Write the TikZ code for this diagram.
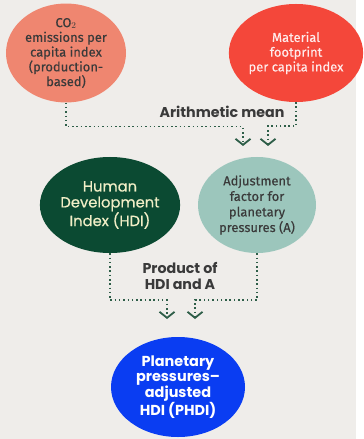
\documentclass[tikz,border=0pt]{standalone}
\usepackage{fontspec}
\setmainfont{Fira Sans}[FakeBold=0.3]
\newfontfamily\geofont{Poppins}[FakeBold=0.5]
\newfontfamily\geobold{Poppins}
\usetikzlibrary{arrows.meta,shapes.geometric}
\definecolor{bgcol}{HTML}{EFEDEA}
\definecolor{salmon}{HTML}{EF8670}
\definecolor{redfoot}{HTML}{F4473A}
\definecolor{hdigreen}{HTML}{0B4A32}
\definecolor{adjteal}{HTML}{9CC6BC}
\definecolor{phdiblue}{HTML}{0A3DF2}
\definecolor{linkgreen}{HTML}{2E5E48}
\definecolor{labelgray}{HTML}{3A3A3A}
\tikzset{
  blob/.style={ellipse,inner sep=0pt,align=center},
  narrowtxt/.style={font=\fontsize{13}{14.8}\selectfont},
  geotxt/.style={font=\geofont\fontsize{14.8}{16}\selectfont},
  link/.style={linkgreen,line width=1.5bp,dash pattern=on 1.5bp off 2.8bp,
    -{Straight Barb[length=6bp,width=15bp,line width=1.8bp]}},
}
\begin{document}
\begin{tikzpicture}[x=1bp,y=-1bp]
\fill[bgcol] (0,0) rectangle (356,439); %background
% top row
\node[blob,narrowtxt,fill=salmon,text=labelgray,minimum width=120bp,minimum height=98bp] (co2) at (66,53)
  {CO$_2$\\emissions per\\capita index\\(production-\\based)};
\node[blob,narrowtxt,fill=redfoot,text=red!8,minimum width=116bp,minimum height=98bp] (mat) at (296,53)
  {Material\\footprint\\per capita index};
% middle row
\node[blob,geotxt,fill=hdigreen,text=yellow!20!white!88!gray,minimum width=120bp,minimum height=96bp] (hdi) at (110,205)
  {Human\\Development\\Index (HDI)};
\node[blob,narrowtxt,fill=adjteal,text=labelgray,minimum width=118bp,minimum height=96bp,
  font=\fontsize{13}{15.6}\selectfont] (adj) at (257,205)
  {Adjustment\\factor for\\planetary\\pressures (A)};
% bottom
\node[blob,fill=phdiblue,text=white,minimum width=134bp,minimum height=100bp,
  font=\geobold\bfseries\fontsize{14.5}{15.7}\selectfont] (phdi) at (178,387)
  {Planetary\\pressures–\\adjusted\\HDI (PHDI)};
% labels
\node[text=labelgray,font=\geobold\bfseries\fontsize{14.3}{16}\selectfont] (mean) at (222,112) {Arithmetic mean};
\node[text=labelgray,align=center,font=\geobold\bfseries\fontsize{14.3}{17}\selectfont] (prod) at (180,276) {Product of\\HDI and A};
% connectors
\coordinate (m1) at (243,146);
\coordinate (m2) at (268,146);
\coordinate (p1) at (167,319);
\coordinate (p2) at (195,319);
\draw[link] (co2.south) -- ++(0,24) -| (m1);
\draw[link] (mat.south) -- ++(0,24) -| (m2);
\draw[link] (hdi.south) -- ++(0,47) -| (p1);
\draw[link] (adj.south) -- ++(0,47) -| (p2);
\end{tikzpicture}
\end{document}
